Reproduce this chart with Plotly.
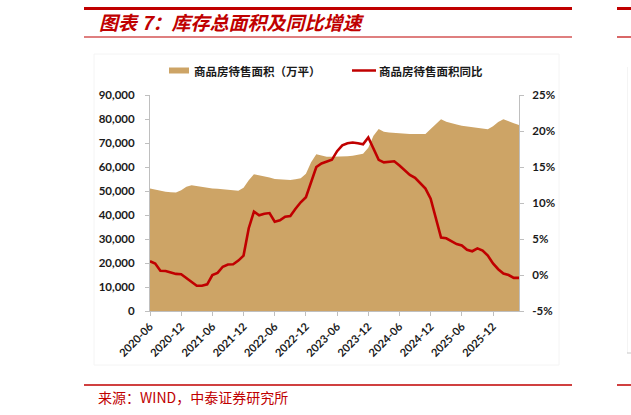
import plotly.graph_objects as go
import pandas as pd

# ---- data ----
months = [p.strftime("%Y-%m") for p in pd.period_range("2020-06", "2026-05", freq="M")]

area_wan = [
    51000, 50500, 50000, 49700, 49500, 49400, 50300, 51800, 52400, 52000,
    51500, 51200, 51000, 50900, 50700, 50500, 50300, 50100, 51400, 54500,
    57000, 56600, 56100, 55600, 55000, 54800, 54700, 54600, 54900, 55300,
    57200, 62000, 65300, 64800, 64300, 64300, 64300, 64300, 64500, 64700,
    65000, 65500, 68000, 73000, 75800, 74700, 74400, 74200, 73900, 73800,
    73800, 73700, 73700, 73800, 75800, 78000, 79900, 78900, 78200, 77700,
    77200, 76900, 76600, 76300, 76000, 75700, 77000, 78700, 79900, 78900,
    78200, 77500,
]

yoy_pct = [
    1.9, 1.6, 0.6, 0.55, 0.35, 0.15, 0.1, -0.4, -1.0, -1.5,
    -1.5, -1.3, 0.0, 0.3, 1.15, 1.45, 1.5, 2.0, 2.7, 6.5,
    8.8, 8.3, 8.5, 8.6, 7.4, 7.6, 8.1, 8.2, 9.2, 10.1,
    10.8, 13.0, 15.0, 15.5, 15.7, 16.0, 17.2, 18.0, 18.3, 18.4,
    18.3, 18.15, 19.1, 17.5, 16.0, 15.65, 15.7, 15.8, 15.2, 14.5,
    13.9, 13.5, 12.8, 12.0, 10.6, 7.8, 5.2, 5.1, 4.7, 4.3,
    4.1, 3.5, 3.3, 3.7, 3.4, 2.7, 1.6, 0.8, 0.2, 0.0,
    -0.4, -0.4,
]

tick_months = ["2020-06", "2020-12", "2021-06", "2021-12", "2022-06", "2022-12",
               "2023-06", "2023-12", "2024-06", "2024-12", "2025-06", "2025-12"]
left_ticks = [0, 10000, 20000, 30000, 40000, 50000, 60000, 70000, 80000, 90000]
right_ticks = [-5, 0, 5, 10, 15, 20, 25]

name_area = "商品房待售面积（万平）"
name_line = "商品房待售面积同比"
title_text = "图表 7：库存总面积及同比增速"
source_text = "来源：WIND，中泰证券研究所"

# ---- styles ----
W, H = 631, 415
L, R, T, B = 150, 519, 95, 311
RED = "#C00000"
TAN = "#CDA466"
AXIS = "#BFBFBF"
TXT = "#1A1A1A"
CJK = "Noto Sans CJK SC"
NUM = "Lato, 'Liberation Sans', sans-serif"


def px(x):
    return (x - L) / (R - L)


def py(y):
    return (B - y) / (B - T)


fig = go.Figure()
fig.add_trace(go.Scatter(
    x=months, y=area_wan, name=name_area, mode="lines",
    line=dict(width=0, color=TAN), fill="tozeroy", fillcolor=TAN,
    yaxis="y", showlegend=False, hoverinfo="x+y"))
fig.add_trace(go.Scatter(
    x=months, y=yoy_pct, name=name_line, mode="lines",
    line=dict(width=2.6, color=RED), yaxis="y2", showlegend=False))

fig.update_layout(
    width=W, height=H,
    margin=dict(l=L, r=W - R, t=T, b=H - B, pad=0),
    paper_bgcolor="white", plot_bgcolor="rgba(0,0,0,0)",
    showlegend=False,
    xaxis=dict(
        type="category", range=[0, len(months) - 1],
        tickmode="array", tickvals=tick_months, ticktext=tick_months,
        tickangle=-45, ticks="outside", ticklen=4, tickcolor=AXIS,
        showline=True, linecolor=AXIS, linewidth=1, showgrid=False,
        tickfont=dict(family=NUM, size=11, color=TXT, weight="bold"),
        zeroline=False),
    yaxis=dict(
        range=[0, 90000], tickmode="array", tickvals=left_ticks,
        ticktext=[f"{v:,}" for v in left_ticks],
        ticks="outside", ticklen=4, tickcolor=AXIS,
        showline=True, linecolor=AXIS, linewidth=1, showgrid=False,
        zeroline=False, ticklabelstandoff=8,
        tickfont=dict(family=NUM, size=11.5, color=TXT, weight="bold")),
    yaxis2=dict(
        range=[-5, 25], overlaying="y", side="right",
        tickmode="array", tickvals=right_ticks,
        ticktext=[f"{v}%" for v in right_ticks],
        ticks="outside", ticklen=4, tickcolor=AXIS,
        showline=True, linecolor=AXIS, linewidth=1, showgrid=False,
        zeroline=False, ticklabelstandoff=6,
        tickfont=dict(family=NUM, size=11.5, color=TXT, weight="bold")),
)

shapes = [
    # faint chart frame
    dict(type="rect", xref="paper", yref="paper", x0=px(94), x1=px(559), y0=py(365), y1=py(54),
         line=dict(color="#F4F4F4", width=1), layer="below"),
    # header lines
    dict(type="line", xref="paper", yref="paper", x0=px(84), x1=px(572), y0=py(8.5), y1=py(8.5),
         line=dict(color=RED, width=3)),
    dict(type="line", xref="paper", yref="paper", x0=px(617), x1=px(631), y0=py(8.5), y1=py(8.5),
         line=dict(color=RED, width=3)),
    dict(type="line", xref="paper", yref="paper", x0=px(84), x1=px(572), y0=py(37), y1=py(37),
         line=dict(color=RED, width=1.2)),
    dict(type="line", xref="paper", yref="paper", x0=px(617), x1=px(631), y0=py(37), y1=py(37),
         line=dict(color=RED, width=1.2)),
    # footer lines
    dict(type="line", xref="paper", yref="paper", x0=px(84), x1=px(572), y0=py(385), y1=py(385),
         line=dict(color=RED, width=1.5)),
    dict(type="line", xref="paper", yref="paper", x0=px(617), x1=px(631), y0=py(385), y1=py(385),
         line=dict(color=RED, width=1.5)),
    # neighbouring panel edge
    dict(type="line", xref="paper", yref="paper", x0=px(627.5), x1=px(627.5), y0=py(353), y1=py(67),
         line=dict(color="#F4F4F4", width=1)),
    dict(type="line", xref="paper", yref="paper", x0=px(627), x1=px(631), y0=py(353), y1=py(353),
         line=dict(color="#C8C8C8", width=1)),
    # legend markers
    dict(type="rect", xref="paper", yref="paper", x0=px(169), x1=px(189), y0=py(73.5), y1=py(67.5),
         line=dict(width=0), fillcolor=TAN),
    dict(type="line", xref="paper", yref="paper", x0=px(352), x1=px(376), y0=py(70.5), y1=py(70.5),
         line=dict(color=RED, width=2.5)),
]

annotations = [
    dict(text=title_text, xref="paper", yref="paper", x=px(97), y=py(22),
         xanchor="left", yanchor="middle", showarrow=False,
         font=dict(family=CJK, size=19, color=RED, weight="bold", style="italic")),
    dict(text=name_area, xref="paper", yref="paper", x=px(192), y=py(70.5),
         xanchor="left", yanchor="middle", showarrow=False,
         font=dict(family=CJK, size=11.5, color=TXT, weight="bold")),
    dict(text=name_line, xref="paper", yref="paper", x=px(377), y=py(70.5),
         xanchor="left", yanchor="middle", showarrow=False,
         font=dict(family=CJK, size=11.5, color=TXT, weight="bold")),
    dict(text=source_text, xref="paper", yref="paper", x=px(96), y=py(397),
         xanchor="left", yanchor="middle", showarrow=False,
         font=dict(family=CJK, size=14, color=RED)),
]

fig.update_layout(shapes=shapes, annotations=annotations)
fig.write_html("out.html")
